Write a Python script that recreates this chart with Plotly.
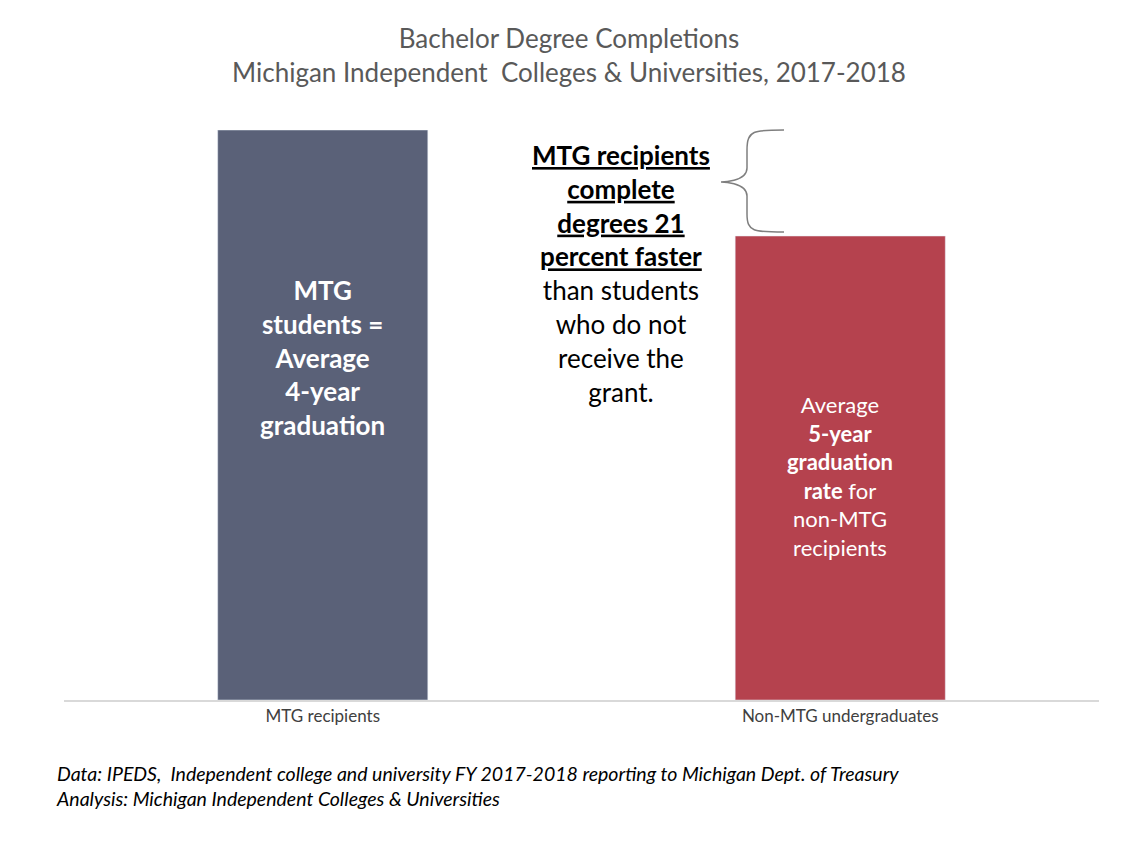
import plotly.graph_objects as go

categories = ["MTG recipients", "Non-MTG undergraduates"]
values = [100, 81.4]
colors = ["#5a6178", "#b5424e"]
bar_texts = [
    "<b>MTG<br>students =<br>Average<br>4-year<br>graduation</b>",
    "Average<br><b>5-year<br>graduation<br>rate</b> for<br>non-MTG<br>recipients",
]

# page renders offset by roughly (9, 8) px
DX, DY = 9, 8
L, R, T, B = 65 - DX, 1122 - 1100 + DX, 130 - DY, 841 - 700 + DY
W, H = 1122 - L - R, 841 - T - B

def px(x):
    return (x - 65) / W

def py(y):
    return (700 - y) / H

fig = go.Figure()
fig.add_trace(go.Bar(x=categories, y=values, marker_color=colors, width=0.406))

fig.add_annotation(x=categories[0], y=py(357) * 100, text=bar_texts[0], showarrow=False,
                   yanchor="middle", font=dict(size=26, color="white"), align="center")
fig.add_annotation(x=categories[1], y=py(476) * 100, text=bar_texts[1], showarrow=False,
                   yanchor="middle", font=dict(size=22, color="white"), align="center")
fig.add_annotation(xref="paper", yref="paper", x=px(622), y=py(273), yanchor="middle",
                   text="<b><u>MTG recipients</u></b><br><b><u>complete</u></b><br>"
                        "<b><u>degrees 21</u></b><br><b><u>percent faster</u></b><br>"
                        "than students<br>who do not<br>receive the<br>grant.",
                   showarrow=False, font=dict(size=26, color="black"), align="center")

# brace
x0, xm, x1 = px(748), px(722), px(785)
yt, yc, yb = py(130), py(182), py(232)
path = (f"M {x1},{yt} C {px(755)},{yt} {x0},{yt} {x0},{py(150)} "
        f"L {x0},{py(168)} C {x0},{yc} {xm},{yc} {xm},{yc} "
        f"C {xm},{yc} {x0},{yc} {x0},{py(196)} "
        f"L {x0},{py(214)} C {x0},{yb} {px(755)},{yb} {x1},{yb}")
fig.add_shape(type="path", xref="paper", yref="paper", path=path,
              line=dict(color="#7f7f7f", width=1.5))

fig.add_annotation(xref="paper", yref="paper", x=px(55), y=py(786), xanchor="left",
                   yanchor="middle",
                   text="<i>Data: IPEDS,  Independent college and university FY 2017-2018 reporting to Michigan Dept. of Treasury<br>"
                        "Analysis: Michigan Independent Colleges & Universities</i>",
                   showarrow=False, align="left", font=dict(size=19.5, color="black"))

fig.update_layout(
    width=1122, height=841,
    margin=dict(l=L, r=R, t=T, b=B),
    paper_bgcolor="white", plot_bgcolor="white",
    font=dict(family="Lato, Open Sans, sans-serif"),
    title=dict(text="Bachelor Degree Completions<br>Michigan Independent  Colleges & Universities, 2017-2018",
               x=0.5, y=0.952, xanchor="center", yanchor="top",
               font=dict(size=26, color="#595959")),
    showlegend=False,
    xaxis=dict(showline=True, linecolor="#d9d9d9", linewidth=1.5, ticks="",
               tickfont=dict(size=17, color="#404040"), range=[-0.5, 1.5]),
    yaxis=dict(visible=False, range=[0, 100]),
)
fig.write_html("out.html")
